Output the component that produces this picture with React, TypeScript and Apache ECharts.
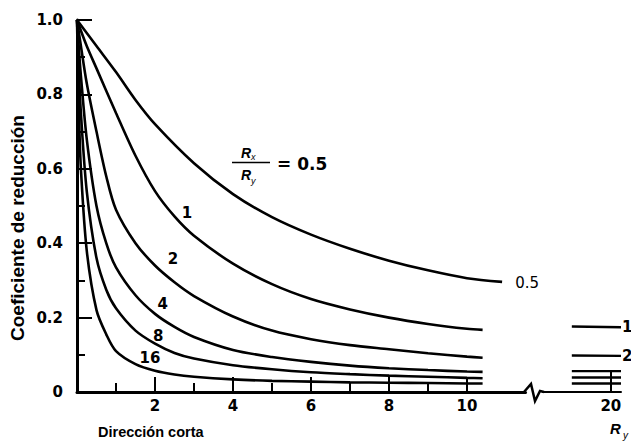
import React, { useEffect, useRef } from "react";
import * as echarts from "echarts";

// ---- data ----
const ratioLabels = ["0.5", "1", "2", "4", "8", "16"];

const x05 = [0, 0.5, 1, 1.5, 2, 3, 4, 5, 6, 7, 8, 9, 10, 10.9];
const y05 = [1.0, 0.93, 0.86, 0.785, 0.72, 0.615, 0.532, 0.47, 0.423, 0.385, 0.353, 0.327, 0.306, 0.296];

const x1 = [0, 0.25, 0.5, 1, 1.5, 2, 2.5, 3, 4, 5, 6, 7, 8, 9, 10, 10.4];
const y1 = [1.0, 0.93, 0.87, 0.75, 0.635, 0.54, 0.472, 0.42, 0.345, 0.29, 0.25, 0.222, 0.2, 0.183, 0.17, 0.167];

const x2 = [0, 0.1, 0.25, 0.5, 0.75, 1, 1.5, 2, 2.5, 3, 4, 5, 6, 7, 8, 9, 10, 10.4];
const y2 = [1.0, 0.93, 0.83, 0.7, 0.58, 0.49, 0.4, 0.34, 0.295, 0.258, 0.203, 0.165, 0.142, 0.126, 0.115, 0.104, 0.095, 0.092];

const xSteep = [0, 0.05, 0.1, 0.25, 0.5, 0.75, 1, 1.5, 2, 2.5, 3, 4, 5, 6, 7, 8, 9, 10, 10.4];
const y4 = [1.0, 0.92, 0.85, 0.68, 0.5, 0.4, 0.335, 0.26, 0.21, 0.175, 0.148, 0.113, 0.094, 0.081, 0.071, 0.064, 0.059, 0.055, 0.054];
const y8 = [1.0, 0.86, 0.75, 0.54, 0.36, 0.275, 0.225, 0.165, 0.13, 0.105, 0.09, 0.072, 0.061, 0.053, 0.048, 0.044, 0.041, 0.038, 0.037];
const y16 = [1.0, 0.75, 0.6, 0.38, 0.22, 0.155, 0.11, 0.075, 0.057, 0.047, 0.041, 0.034, 0.03, 0.028, 0.026, 0.025, 0.024, 0.023, 0.023];

// values at Ry = 20 (right-hand section after the axis break)
const xRight = [18.85, 20.3];
const yRight1 = [0.176, 0.174];
const yRight2 = [0.098, 0.097];
const yRight4 = [0.056, 0.056];
const yRight8 = [0.039, 0.039];
const yRight16 = [0.023, 0.023];

const xMajorTicks = [2, 4, 6, 8, 10];
const xMinorTicks = [1, 3, 5, 7, 9];
const xRightTicks = [20];

// curve label anchor points (data coordinates)
const curveLabelPts: [number, number, string][] = [
  [2.82, 0.481, "1"],
  [2.46, 0.357, "2"],
  [2.2, 0.237, "4"],
  [2.08, 0.15, "8"],
  [1.87, 0.091, "16"],
];
const endLabel05: [number, number, string] = [11.54, 0.293, "0.5"];
const rightLabelPts: [number, number, string][] = [
  [20.48, 0.175, "1"],
  [20.48, 0.097, "2"],
];

const zip = (xs: number[], ys: number[]) => xs.map((x, i) => [x, ys[i]]);

export default function App() {
  const ref = useRef<HTMLDivElement>(null);

  useEffect(() => {
    if (!ref.current) return;
    const chart = echarts.init(ref.current, undefined, { renderer: "svg" });

    const lineStyle = { color: "#000", width: 2.6 };
    const leftCurves = [
      zip(x05, y05),
      zip(x1, y1),
      zip(x2, y2),
      zip(xSteep, y4),
      zip(xSteep, y8),
      zip(xSteep, y16),
    ];
    const rightStubs = [yRight1, yRight2, yRight4, yRight8, yRight16].map((ys) => zip(xRight, ys));

    const numFont = {
      fontFamily: "DejaVu Sans",
      fontWeight: "bold" as const,
      fontSize: 15,
      color: "#000",
    };

    const series: any[] = [];
    leftCurves.forEach((d, i) => {
      series.push({
        type: "line",
        name: ratioLabels[i],
        xAxisIndex: 0,
        yAxisIndex: 0,
        data: d,
        smooth: 0.3,
        showSymbol: false,
        symbol: "none",
        lineStyle,
      });
    });
    rightStubs.forEach((d) => {
      series.push({
        type: "line",
        xAxisIndex: 1,
        yAxisIndex: 1,
        data: d,
        showSymbol: false,
        symbol: "none",
        lineStyle: { color: "#000", width: 2.4 },
      });
    });

    chart.setOption({
      animation: false,
      backgroundColor: "#fff",
      grid: [
        { left: 77, top: 20, width: 448.5, height: 372 },
        { left: 543, top: 20, width: 78, height: 372 },
        { left: 77, top: 20, width: 448.5, height: 372 },
      ],
      xAxis: [
        {
          gridIndex: 0,
          type: "value",
          min: 0,
          max: 11.5,
          axisLine: { show: true, onZero: false, lineStyle: { color: "#000", width: 3 } },
          axisTick: { show: true, inside: true, length: 15, customValues: xMajorTicks, lineStyle: { color: "#000", width: 2 } },
          axisLabel: { customValues: xMajorTicks, margin: 6, ...numFont },
          splitLine: { show: false },
        },
        {
          gridIndex: 1,
          type: "value",
          min: 18,
          max: 20.3,
          axisLine: { show: true, onZero: false, lineStyle: { color: "#000", width: 2 } },
          axisTick: { show: true, inside: true, length: 20, customValues: xRightTicks, lineStyle: { color: "#000", width: 2 } },
          axisLabel: { customValues: xRightTicks, margin: 6, ...numFont },
          splitLine: { show: false },
        },
        {
          gridIndex: 2,
          type: "value",
          min: 0,
          max: 11.5,
          axisLine: { show: false, onZero: false },
          axisTick: { show: true, inside: true, length: 9, customValues: xMinorTicks, lineStyle: { color: "#000", width: 2 } },
          axisLabel: { show: false },
          splitLine: { show: false },
        },
      ],
      yAxis: [
        {
          gridIndex: 0,
          type: "value",
          min: 0,
          max: 1,
          interval: 0.2,
          axisLine: { show: true, onZero: false, lineStyle: { color: "#000", width: 3 } },
          axisTick: { show: true, inside: true, length: 15, lineStyle: { color: "#000", width: 2 } },
          minorTick: { show: true, splitNumber: 2, length: 8, lineStyle: { color: "#000", width: 2 } },
          axisLabel: {
            margin: 14,
            formatter: (v: number) => (v === 0 ? "0" : v.toFixed(1)),
            ...numFont,
          },
          splitLine: { show: false },
        },
        { gridIndex: 1, type: "value", min: 0, max: 1, show: false },
        { gridIndex: 2, type: "value", min: 0, max: 1, show: false },
      ],
      series,
    });

    // curve labels placed through the chart's own coordinate conversion
    const toPx = (grid: number, p: [number, number, string]) =>
      chart.convertToPixel({ gridIndex: grid } as any, [p[0], p[1]]) as number[];
    const labelText = (pt: number[], text: string, bold: boolean) => ({
      type: "text",
      x: pt[0],
      y: pt[1],
      style: {
        text,
        fontFamily: "DejaVu Sans",
        fontWeight: bold ? "bold" : "normal",
        fontSize: 15,
        fill: "#000",
        align: "center",
        verticalAlign: "middle",
      },
    });
    const curveLabelGraphics = [
      ...curveLabelPts.map((p) => labelText(toPx(0, p), p[2], true)),
      labelText(toPx(0, endLabel05), endLabel05[2], false),
      ...rightLabelPts.map((p) => labelText(toPx(1, p), p[2], true)),
    ];

    chart.setOption({
      graphic: [
        // axis break squiggle
        {
          type: "polyline",
          shape: { points: [[524, 392], [531, 384], [535, 401], [540, 391], [544, 392]] },
          style: { stroke: "#000", lineWidth: 2.5, fill: null },
        },
        // y axis name
        {
          type: "text",
          x: 17,
          y: 228,
          rotation: Math.PI / 2,
          style: {
            text: "Coeficiente de reducción",
            fontFamily: "Liberation Sans",
            fontWeight: "bold",
            fontSize: 19,
            fill: "#000",
            align: "center",
            verticalAlign: "middle",
          },
        },
        // x axis name
        {
          type: "text",
          x: 98,
          y: 432,
          style: {
            text: "Dirección corta",
            fontFamily: "Liberation Sans",
            fontWeight: "bold",
            fontSize: 14.5,
            fill: "#000",
            align: "left",
            verticalAlign: "middle",
          },
        },
        // R_y at bottom right
        {
          type: "text",
          x: 610,
          y: 428,
          style: { text: "R", fontFamily: "Liberation Sans", fontStyle: "italic", fontWeight: "bold", fontSize: 15, fill: "#000", align: "left", verticalAlign: "middle" },
        },
        {
          type: "text",
          x: 623,
          y: 435,
          style: { text: "y", fontFamily: "Liberation Sans", fontStyle: "italic", fontSize: 10, fill: "#000", align: "left", verticalAlign: "middle" },
        },
        // fraction Rx / Ry = 0.5
        {
          type: "text",
          x: 246,
          y: 153,
          style: { text: "R", fontFamily: "Liberation Sans", fontStyle: "italic", fontWeight: "bold", fontSize: 14, fill: "#000", align: "center", verticalAlign: "middle" },
        },
        {
          type: "text",
          x: 251,
          y: 157,
          style: { text: "x", fontFamily: "Liberation Sans", fontStyle: "italic", fontSize: 9, fill: "#000", align: "left", verticalAlign: "middle" },
        },
        {
          type: "line",
          shape: { x1: 232, y1: 162.5, x2: 270, y2: 162.5 },
          style: { stroke: "#000", lineWidth: 1.6 },
        },
        {
          type: "text",
          x: 246,
          y: 175,
          style: { text: "R", fontFamily: "Liberation Sans", fontStyle: "italic", fontWeight: "bold", fontSize: 14, fill: "#000", align: "center", verticalAlign: "middle" },
        },
        {
          type: "text",
          x: 251,
          y: 181,
          style: { text: "y", fontFamily: "Liberation Sans", fontStyle: "italic", fontSize: 9, fill: "#000", align: "left", verticalAlign: "middle" },
        },
        {
          type: "text",
          x: 277,
          y: 164,
          style: { text: "= 0.5", fontFamily: "DejaVu Sans", fontWeight: "bold", fontSize: 17, fill: "#000", align: "left", verticalAlign: "middle" },
        },
        ...curveLabelGraphics,
      ],
    });

    return () => chart.dispose();
  }, []);

  return (
    <div
      ref={ref}
      style={{ position: "fixed", left: 0, top: 0, width: 631, height: 442, background: "#fff" }}
    />
  );
}
